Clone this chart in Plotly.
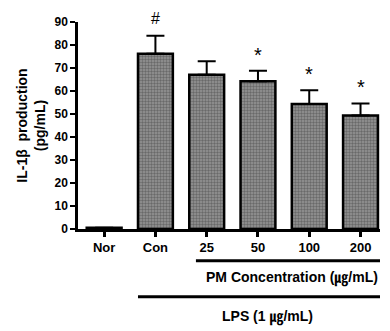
import plotly.graph_objects as go

categories = ["Nor", "Con", "25", "50", "100", "200"]
values = [0.5, 76.2, 67.1, 64.2, 54.3, 49.4]
errors = [0.0, 7.8, 5.8, 4.6, 6.0, 5.2]
marks = ["", "#", "", "*", "*", "*"]
y_ticks = [0, 10, 20, 30, 40, 50, 60, 70, 80, 90]

idx = list(range(len(categories)))
FONT = "Liberation Sans, Arial, Noto Sans CJK KR"

fig = go.Figure()
fig.add_trace(go.Bar(
    x=idx, y=values, width=0.68,
    marker=dict(color="#787878",
                line=dict(color="black", width=2.5),
                pattern=dict(shape=".", fgcolor="#3c3c3c", bgcolor="#969696", size=3, solidity=0.5)),
    error_y=dict(type="data", symmetric=False, array=errors,
                 arrayminus=[0] * len(errors), color="black", thickness=2, width=9),
    showlegend=False,
))

for i, (v, e, m) in enumerate(zip(values, errors, marks)):
    if m:
        fig.add_annotation(x=i, y=v + e, text=m, showarrow=False, yanchor="bottom",
                           yshift=7 if m == "#" else 3,
                           font=dict(family=FONT, size=16 if m == "#" else 20, color="black"))

# group lines and labels
fig.add_shape(type="line", xref="x", yref="paper", x0=1.79, x1=5.38, y0=-0.153, y1=-0.153,
              line=dict(color="black", width=3))
fig.add_annotation(xref="x", yref="paper", x=3.66, y=-0.235, yanchor="middle", xanchor="center",
                   text="<b>PM Concentration (㎍/mL)</b>", showarrow=False,
                   font=dict(family=FONT, size=14, color="black"))
fig.add_shape(type="line", xref="x", yref="paper", x0=0.66, x1=5.48, y0=-0.327, y1=-0.327,
              line=dict(color="black", width=3))
fig.add_annotation(xref="x", yref="paper", x=3.18, y=-0.423, yanchor="middle", xanchor="center",
                   text="<b>LPS (1 ㎍/mL)</b>", showarrow=False,
                   font=dict(family=FONT, size=14, color="black"))

fig.update_layout(
    width=382, height=323,
    margin=dict(l=70, r=10, t=14, b=102, autoexpand=False),
    paper_bgcolor="white", plot_bgcolor="white",
    font=dict(family=FONT, color="black"),
    xaxis=dict(range=[-0.51, 5.38], tickvals=idx,
               ticktext=["<b>%s</b>" % c for c in categories],
               showline=True, linecolor="black", linewidth=2.5,
               ticks="outside", ticklen=5, tickwidth=2.5, tickcolor="black",
               tickfont=dict(family=FONT, size=13), showgrid=False, zeroline=False),
    yaxis=dict(range=[0, 90], tickvals=y_ticks,
               ticktext=["<b>%d</b>" % t for t in y_ticks],
               showline=True, linecolor="black", linewidth=2.5,
               ticks="outside", ticklen=5, tickwidth=2, tickcolor="black",
               tickfont=dict(family=FONT, size=12), showgrid=False, zeroline=False,
               title=dict(text="<b>IL-1β  production<br>(pg/mL)</b>", standoff=6,
                          font=dict(family=FONT, size=14))),
)

fig.write_html("out.html")
